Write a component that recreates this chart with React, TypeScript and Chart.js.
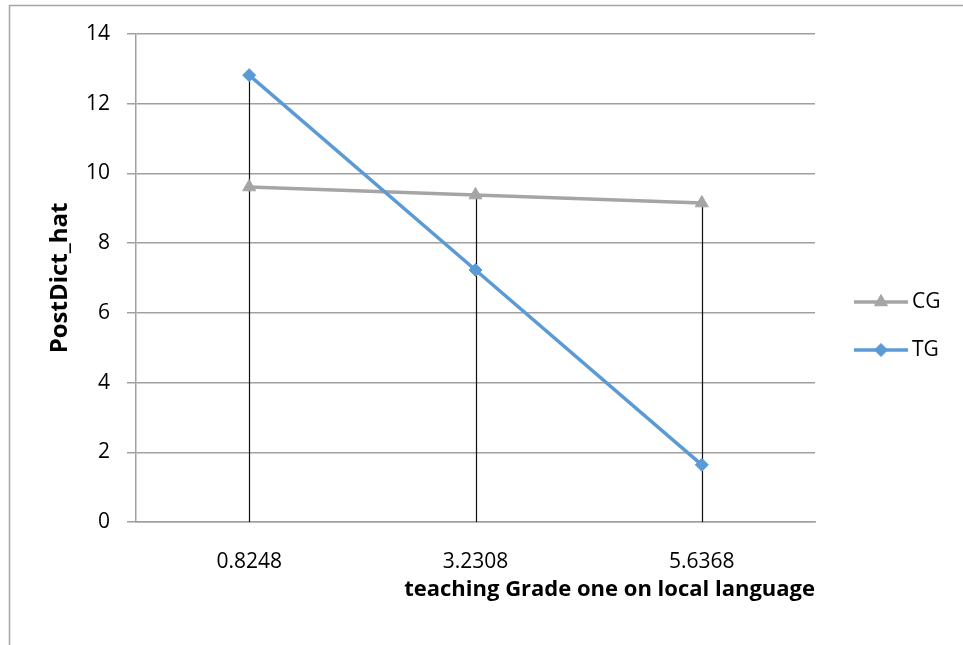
import React, { useEffect, useRef } from "react";
import { Chart, registerables } from "chart.js";

Chart.register(...registerables);

const categories = ["0.8248", "3.2308", "5.6368"];
const cgValues = [9.61, 9.38, 9.15];
const tgValues = [12.82, 7.23, 1.64];
const seriesNames = ["CG", "TG"];
const yMin = 0;
const yMax = 14;
const yStep = 2;
const xTitle = "teaching Grade one on local language";
const yTitle = "PostDict_hat";

const FONT = "'Open Sans', sans-serif";
const GRID = "#a0a0a0";
const W = 963;
const H = 645;
const AREA_LEFT = 136;

const frame = {
  id: "frame",
  beforeDraw(chart: any) {
    const ctx = chart.ctx;
    ctx.save();
    ctx.fillStyle = "#ffffff";
    ctx.fillRect(0, 0, W, H);
    ctx.strokeStyle = "#a6a6a6";
    ctx.lineWidth = 1.5;
    ctx.beginPath();
    ctx.moveTo(9.5, H + 10);
    ctx.lineTo(9.5, 5.5);
    ctx.lineTo(W + 10, 5.5);
    ctx.stroke();
    ctx.restore();
  },
};

const dropLines = {
  id: "dropLines",
  beforeDatasetsDraw(chart: any) {
    const { ctx, scales } = chart;
    const xs = scales.x;
    const ys = scales.y;
    ctx.save();
    ctx.strokeStyle = "#111111";
    ctx.lineWidth = 1.2;
    categories.forEach((_, i) => {
      const vals = chart.data.datasets.map((d: any) => d.data[i]);
      const top = Math.max(...vals);
      const x = Math.round(xs.getPixelForValue(i)) + 0.5;
      ctx.beginPath();
      ctx.moveTo(x, ys.getPixelForValue(top));
      ctx.lineTo(x, ys.getPixelForValue(yMin));
      ctx.stroke();
    });
    ctx.restore();
  },
};

function drawMarker(ctx: CanvasRenderingContext2D, style: string, r: number, x: number, y: number) {
  ctx.beginPath();
  if (style === "triangle") {
    ctx.moveTo(x, y - r);
    ctx.lineTo(x + r * 0.866, y + r * 0.5);
    ctx.lineTo(x - r * 0.866, y + r * 0.5);
  } else {
    ctx.moveTo(x - r, y);
    ctx.lineTo(x, y - r);
    ctx.lineTo(x + r, y);
    ctx.lineTo(x, y + r);
  }
  ctx.closePath();
  ctx.fill();
  ctx.stroke();
}

const customLegend = {
  id: "customLegend",
  afterDraw(chart: any) {
    const ctx = chart.ctx;
    const x0 = 854;
    const x1 = 908;
    const ys = [302, 350];
    ctx.save();
    chart.data.datasets.forEach((ds: any, i: number) => {
      const y = ys[i];
      ctx.strokeStyle = ds.borderColor;
      ctx.lineWidth = ds.borderWidth;
      ctx.beginPath();
      ctx.moveTo(x0, y);
      ctx.lineTo(x1, y);
      ctx.stroke();
      ctx.fillStyle = ds.pointBackgroundColor;
      ctx.strokeStyle = ds.pointBorderColor;
      ctx.lineWidth = 1;
      drawMarker(ctx, ds.pointStyle, ds.pointRadius, (x0 + x1) / 2, y);
      ctx.fillStyle = "#000000";
      ctx.font = `21px ${FONT}`;
      ctx.textAlign = "left";
      ctx.textBaseline = "middle";
      ctx.fillText(ds.label, x1 + 4, y);
    });
    ctx.restore();
  },
};

export default function App() {
  const ref = useRef<HTMLCanvasElement | null>(null);

  useEffect(() => {
    if (!ref.current) return;
    const chart = new Chart(ref.current, {
      type: "line",
      data: {
        labels: categories,
        datasets: [
          {
            label: seriesNames[0],
            data: cgValues,
            borderColor: "#a5a5a5",
            backgroundColor: "#a5a5a5",
            pointBackgroundColor: "#a5a5a5",
            pointBorderColor: "#a5a5a5",
            borderWidth: 3.5,
            pointStyle: "triangle",
            pointRadius: 7.5,
            pointBorderWidth: 1,
            tension: 0,
            order: 1,
          },
          {
            label: seriesNames[1],
            data: tgValues,
            borderColor: "#5b9bd5",
            backgroundColor: "#5b9bd5",
            pointBackgroundColor: "#5b9bd5",
            pointBorderColor: "#5b9bd5",
            borderWidth: 3.5,
            pointStyle: "rectRot",
            pointRadius: 6.5,
            pointBorderWidth: 1,
            tension: 0,
            order: 0,
          },
        ],
      },
      options: {
        responsive: false,
        animation: false,
        events: [],
        layout: { padding: { left: 0, top: 34, right: 148, bottom: 31 } },
        plugins: {
          legend: { display: false },
          tooltip: { enabled: false },
          title: { display: false },
        },
        scales: {
          x: {
            type: "category",
            offset: true,
            grid: { display: false },
            border: { display: true, color: GRID, width: 1.5 },
            ticks: { color: "#000000", font: { family: FONT, size: 21 }, padding: 19 },
            title: {
              display: true,
              text: xTitle,
              align: "end",
              color: "#000000",
              font: { family: FONT, size: 22, weight: "bold" },
              padding: { top: 12, bottom: 11 },
            },
            afterFit(scale: any) {
              scale.height = 92;
            },
          },
          y: {
            min: yMin,
            max: yMax,
            ticks: {
              stepSize: yStep,
              color: "#000000",
              font: { family: FONT, size: 21 },
              padding: 17,
            },
            grid: { color: GRID, lineWidth: 1.5, drawTicks: true, tickLength: 9 },
            border: { display: true, color: GRID, width: 1.5 },
            title: {
              display: true,
              text: yTitle,
              color: "#000000",
              font: { family: FONT, size: 24, weight: "bold" },
              padding: { top: 46, bottom: 0 },
            },
            afterFit(scale: any) {
              scale.width = AREA_LEFT;
            },
          },
        },
      },
      plugins: [frame, dropLines, customLegend],
    });
    return () => chart.destroy();
  }, []);

  return (
    <div style={{ position: "fixed", left: 0, top: 0, width: W, height: H, background: "#fff" }}>
      <canvas ref={ref} width={W} height={H} style={{ display: "block" }} />
    </div>
  );
}
